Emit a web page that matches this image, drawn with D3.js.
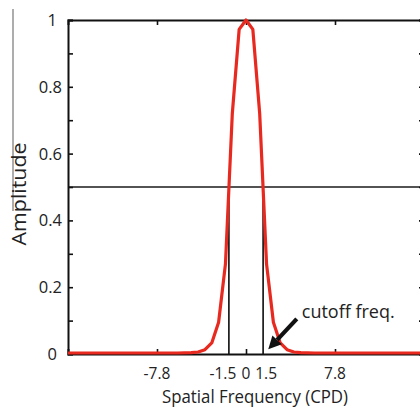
<!DOCTYPE html>
<html>
<head>
<meta charset="utf-8">
<script src="https://cdn.jsdelivr.net/npm/d3@7"></script>
<style>
  html, body { margin: 0; padding: 0; background: #fff; }
  svg { display: block; font-family: "Open Sans", "Noto Sans", sans-serif; }
</style>
</head>
<body>
<svg id="chart" width="420" height="409"></svg>
<script>
// Frequency response of the filter (amplitude vs spatial frequency, CPD)
const freq = [-15.6, -12, -9, -6, -4.8, -4.2, -3.6, -3.0, -2.4, -1.8, -1.2, -0.6, 0,
              0.6, 1.2, 1.8, 2.4, 3.0, 3.6, 4.2, 4.8, 6, 9, 12, 15.6];
const amplitude = [0.003, 0.003, 0.003, 0.003, 0.004, 0.006, 0.013, 0.033, 0.095, 0.27, 0.72, 0.972, 1,
                   0.972, 0.72, 0.27, 0.095, 0.033, 0.013, 0.006, 0.004, 0.003, 0.003, 0.003, 0.003];

const xDomain = [-15.6, 15.6];
const xTickMarks = [-7.8, 0, 7.8];
const xTickLabels = [-7.8, -1.5, 0, 1.5, 7.8];
const yTicks = [0, 0.1, 0.2, 0.3, 0.4, 0.5, 0.6, 0.7, 0.8, 0.9, 1];
const yTickLabels = [0, 0.2, 0.4, 0.6, 0.8, 1];

// half-amplitude level and the cutoff frequencies where the curve crosses it
const halfLevel = 0.5;
const cutoffs = [-1.5, 1.5];
const annotation = { text: "cutoff freq.", from: [4.45, 0.105], to: [1.95, 0.014] };

const svg = d3.select("#chart");
const plotLeft = 68, plotRight = 424, plotTop = 20, plotBottom = 354;

const x = d3.scaleLinear().domain(xDomain).range([plotLeft, plotRight]);
const y = d3.scaleLinear().domain([0, 1]).range([plotBottom, plotTop]);

const fmt = d => (Number.isInteger(d) ? String(d) : d.toFixed(1));

// side rule next to the y-axis title
svg.append("line")
  .attr("x1", 13).attr("x2", 13).attr("y1", 9).attr("y2", 211)
  .attr("stroke", "#8a8a8a").attr("stroke-width", 1.4);

// half-amplitude guide and cutoff verticals
svg.append("line")
  .attr("x1", x(xDomain[0])).attr("x2", x(xDomain[1]))
  .attr("y1", y(halfLevel)).attr("y2", y(halfLevel))
  .attr("stroke", "#1a1a1a").attr("stroke-width", 1.7);

svg.selectAll("line.cut").data(cutoffs).join("line")
  .attr("class", "cut")
  .attr("x1", d => x(d)).attr("x2", d => x(d))
  .attr("y1", y(halfLevel)).attr("y2", y(0))
  .attr("stroke", "#1a1a1a").attr("stroke-width", 1.7);

// axes: left with inward ticks, right mirror, top and bottom with inward ticks
const tickLen = 5;
const gLeft = svg.append("g").attr("transform", `translate(${plotLeft},0)`)
  .call(d3.axisRight(y).tickValues(yTicks).tickSize(tickLen).tickFormat(""));
const gRight = svg.append("g").attr("transform", `translate(${plotRight},0)`)
  .call(d3.axisLeft(y).tickValues(yTicks).tickSize(tickLen).tickFormat(""));
const gBottom = svg.append("g").attr("transform", `translate(0,${plotBottom})`)
  .call(d3.axisTop(x).tickValues(xTickMarks).tickSize(tickLen).tickFormat(""));
const gTop = svg.append("g").attr("transform", `translate(0,${plotTop})`)
  .call(d3.axisBottom(x).tickValues(xTickMarks).tickSize(tickLen).tickFormat(""));

[gLeft, gRight, gBottom, gTop].forEach(g => {
  g.select(".domain").attr("stroke", "#111").attr("stroke-width", 2);
  g.selectAll(".tick line").attr("stroke", "#111").attr("stroke-width", 1.6);
});

// tick labels
svg.append("g").selectAll("text").data(yTickLabels).join("text")
  .attr("x", 62).attr("y", d => y(d))
  .attr("dx", d => (Number.isInteger(d) ? -5 : 0))
  .attr("dy", "0.36em")
  .attr("text-anchor", "end")
  .attr("font-size", 16.5).attr("fill", "#222")
  .text(fmt);

svg.append("g").selectAll("text").data(xTickLabels).join("text")
  .attr("x", d => x(d)).attr("y", 379)
  .attr("dx", d => (d === -1.5 ? -6 : d === 1.5 ? 3 : 0))
  .attr("text-anchor", "middle")
  .attr("font-size", 15.5).attr("fill", "#222")
  .text(fmt);

// amplitude curve
const line = d3.line().x((d, i) => x(freq[i])).y(d => y(d));
svg.append("path")
  .datum(amplitude)
  .attr("d", line)
  .attr("fill", "none")
  .attr("stroke", "#e8291f")
  .attr("stroke-width", 3.2)
  .attr("stroke-linejoin", "round");

// axis titles
svg.append("text")
  .attr("x", 255).attr("y", 403)
  .attr("text-anchor", "middle")
  .attr("font-size", 19).attr("fill", "#222")
  .attr("textLength", 186).attr("lengthAdjust", "spacingAndGlyphs")
  .text("Spatial Frequency (CPD)");

svg.append("text")
  .attr("transform", "translate(26,194) rotate(-90)")
  .attr("text-anchor", "middle")
  .attr("font-size", 20).attr("fill", "#222")
  .attr("textLength", 103).attr("lengthAdjust", "spacingAndGlyphs")
  .text("Amplitude");

// cutoff annotation with arrow
const ax0 = x(annotation.from[0]), ay0 = y(annotation.from[1]);
const ax1 = x(annotation.to[0]), ay1 = y(annotation.to[1]);
const ang = Math.atan2(ay1 - ay0, ax1 - ax0);
const headLen = 13, headW = 6.5;
const bx = ax1 - headLen * Math.cos(ang), by = ay1 - headLen * Math.sin(ang);
svg.append("line")
  .attr("x1", ax0).attr("y1", ay0).attr("x2", bx).attr("y2", by)
  .attr("stroke", "#111").attr("stroke-width", 4.2);
svg.append("path")
  .attr("d", `M${ax1},${ay1}L${bx + headW * Math.sin(ang)},${by - headW * Math.cos(ang)}L${bx - headW * Math.sin(ang)},${by + headW * Math.cos(ang)}Z`)
  .attr("fill", "#111");

svg.append("text")
  .attr("x", ax0 + 5).attr("y", ay0 - 1)
  .attr("font-size", 18).attr("fill", "#222")
  .text(annotation.text);
</script>
</body>
</html>
